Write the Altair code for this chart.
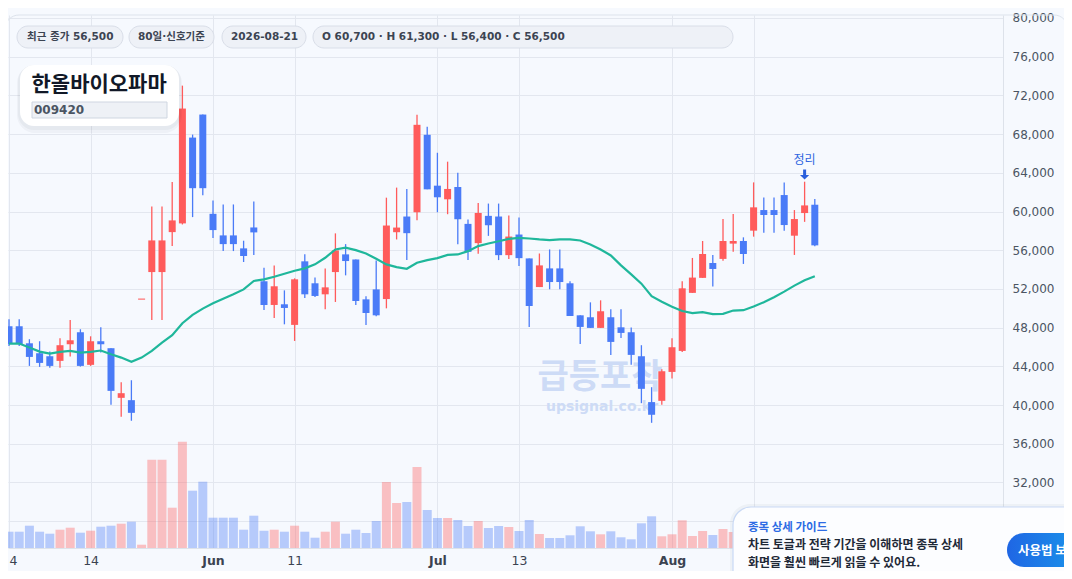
import json
import altair as alt
import pandas as pd

# ---------------- data ----------------
opens = [48140, 48140, 46380, 45350, 45040, 44560, 46280, 47520, 44150, 46590,
         45870, 40740, 40500, 50890, 53740, 53740, 57870, 58770, 67640, 70020,
         59760, 57530, 57530, 56190, 58350, 52780, 50340, 50410, 48280, 54850,
         52580, 51440, 53740, 55570, 55040, 50920, 51950, 50950, 57860, 59480,
         59920, 67930, 62670, 61260, 62530, 58720, 56730, 59550, 59480, 55490,
         57620, 55150, 52190, 54120, 54120, 52580, 49270, 49070, 47970, 49070,
         48030, 47520, 45040, 40300, 40430, 43420, 45590, 51590, 53140, 54680,
         55100, 56680, 56950, 58020, 60150, 60150, 61700, 57500, 59840, 60700]
highs = [48860, 48860, 46800, 46590, 45520, 46900, 48790, 47830, 47100, 48030,
         45870, 42360, 42560, 50890, 60520, 60520, 63050, 73010, 67950, 70020,
         61140, 60730, 60730, 56980, 61040, 54190, 54430, 51850, 53090, 55570,
         53190, 54120, 57740, 56630, 55040, 51230, 54940, 61430, 62470, 62330,
         69990, 68750, 66070, 65150, 64010, 59170, 60890, 60820, 60820, 59580,
         59370, 55150, 55660, 56080, 56080, 52780, 49270, 50610, 50820, 49890,
         49890, 48000, 46180, 41840, 43700, 46900, 52780, 55200, 56950, 55510,
         59220, 59740, 57330, 63010, 61460, 61460, 63010, 60150, 63080, 61300]
lows = [46110, 46100, 44040, 43940, 43840, 43840, 45010, 43970, 44040, 45420,
        40020, 38780, 38370, 50890, 48790, 48790, 56430, 58660, 59420, 61690,
        57250, 55910, 55910, 54780, 55500, 49820, 49000, 48340, 46620, 51060,
        51160, 49890, 50650, 53400, 50340, 48270, 49170, 49990, 57110, 54980,
        59100, 62290, 59920, 59720, 56620, 54980, 55630, 57480, 54980, 55080,
        54360, 48070, 52190, 51960, 51960, 49200, 46310, 47970, 47970, 45180,
        46930, 44150, 40190, 38160, 40020, 42740, 45490, 51590, 53140, 52240,
        54920, 55850, 54580, 57400, 57810, 57810, 58020, 55510, 58930, 56400]
closes = [46310, 46310, 44970, 44350, 44040, 46180, 46690, 44040, 46590, 46280,
          41460, 41220, 39190, 50890, 57010, 57010, 59080, 70640, 62410, 62410,
          58080, 56630, 56630, 55400, 57840, 50340, 52270, 50030, 52990, 51440,
          51270, 52160, 55980, 54880, 50750, 49510, 49270, 58550, 58340, 57760,
          68960, 62290, 61470, 62330, 59200, 55830, 59850, 58580, 55490, 57410,
          55180, 50230, 54430, 52710, 52710, 49200, 48070, 47970, 49690, 46520,
          47450, 45180, 41670, 38990, 43490, 45970, 52060, 53170, 55610, 54060,
          56950, 56950, 55610, 60430, 59640, 59640, 58600, 59220, 60630, 56500]
volumes = [163000, 163000, 223000, 163000, 143000, 183000, 203000, 153000, 173000, 213000,
           223000, 243000, 263000, 33000, 883000, 883000, 403000, 1063000, 573000, 663000,
           303000, 303000, 303000, 183000, 323000, 173000, 183000, 163000, 223000, 163000,
           103000, 163000, 263000, 143000, 183000, 150000, 270000, 660000, 450000, 460000,
           810000, 380000, 300000, 300000, 280000, 220000, 270000, 200000, 220000, 210000,
           170000, 280000, 140000, 100000, 100000, 127000, 217000, 167000, 137000, 167000,
           107000, 87000, 247000, 317000, 117000, 137000, 277000, 120000, 170000, 130000,
           190000, 160000, 140000, 240000, 120000, 120000, 180000, 150000, 220000, 170000]
ma_values = [46350, 46350, 45940, 45520, 45320, 45490, 45590, 45420, 45490, 45630,
             45250, 44900, 44460, 44900, 45590, 46450, 47210, 48450, 49310, 49960,
             50510, 50990, 51440, 51950, 52820, 52990, 53260, 53570, 53880, 54120,
             54540, 55220, 56080, 56260, 56010, 55660, 55110, 54530, 54250, 54080,
             54700, 54980, 55180, 55520, 55560, 55900, 56420, 56690, 56930, 57170,
             57280, 57210, 57110, 57050, 57110, 57110, 57000, 56600, 56070, 55460,
             54430, 53500, 52540, 51250, 50680, 50160, 49720, 49500, 49590, 49390,
             49420, 49760, 49800, 50180, 50620, 51140, 51720, 52340, 52890, 53310]

x_tick_idx = [0, 8, 20, 28, 42, 50, 65, 73]
x_tick_lbl = ["4", "14", "Jun", "11", "Jul", "13", "Aug", ""]  # last tick label hidden under the guide popup
month_idx = [20, 42, 65]
price_ticks = [28000, 32000, 36000, 40000, 44000, 48000, 52000, 56000,
               60000, 64000, 68000, 72000, 76000, 80000]
last_date = "2026-08-21"
stock_name = "한올바이오파마"
stock_code = "009420"
signal_idx = 78
signal_label = "정리"
guide_title = "종목 상세 가이드"
guide_line1 = "차트 토글과 전략 기간을 이해하면 종목 상세"
guide_line2 = "화면을 훨씬 빠르게 읽을 수 있어요."
guide_button = "사용법 보기"
wm_main = "급등포착"
wm_sub = "upsignal.co.kr"

# ---------------- styles ----------------
UP = "#ff5b5b"
DOWN = "#4a7bf7"
MA_C = "#1fb79b"
BG = "#f6f9fe"
GRID = "#e3e7ef"
FONT = "DejaVu Sans, Noto Sans CJK KR"
KFONT = "Noto Sans CJK KR, DejaVu Sans"

rows = []
for i, (o, h, l, c, v, m) in enumerate(zip(opens, highs, lows, closes, volumes, ma_values)):
    lo, hi = min(o, c), max(o, c)
    if hi - lo < 110:
        hi = lo + 110
    rows.append({"i": i, "o": o, "h": h, "l": l, "c": c, "lo": lo, "hi": hi,
                 "v": v, "ma": m, "dir": "up" if c >= o else "down"})
df = pd.DataFrame(rows)
one = pd.DataFrame({"k": [0]})

W, H = 995, 533
xs = alt.Scale(domain=[-0.098, 97.45], nice=False, zero=False, padding=0)
ys = alt.Scale(domain=[25220, 80310], nice=False, zero=False, padding=0)
vs = alt.Scale(domain=[0, 5330000], nice=False, zero=True, padding=0)
col = alt.Color("dir:N", scale=alt.Scale(domain=["up", "down"], range=[UP, DOWN]), legend=None)

lbl_expr = f"{json.dumps(x_tick_lbl)}[indexof({json.dumps(x_tick_idx)}, datum.value)]"
x_axis = alt.Axis(values=x_tick_idx, labelExpr=lbl_expr, grid=True, gridColor=GRID,
                  domain=True, domainColor="#dde2ea", ticks=False, labelPadding=6,
                  labelFontSize=12.5, labelColor="#3b4351", labelFont=FONT, title=None,
                  labelFlush=5, labelOverlap=False,
                  labelFontWeight={"condition": {"test": f"indexof({json.dumps(month_idx)}, datum.value) >= 0",
                                                 "value": "bold"}, "value": "normal"})
y_axis = alt.Axis(orient="right", values=price_ticks, format=",d", grid=True, gridColor=GRID,
                  domain=True, domainColor="#dde2ea", ticks=False, labelPadding=9,
                  labelFontSize=12, labelColor="#4b5563", labelFont=FONT, title=None,
                  labelOverlap=False)
X = alt.X("i:Q", scale=xs, axis=x_axis)

# ---------------- chart layers ----------------
vol = alt.Chart(df).mark_bar(size=9, opacity=0.37).encode(
    x=X, y=alt.Y("v:Q", scale=vs, axis=None), color=col)

wm1 = alt.Chart(one).mark_text(font=KFONT, fontSize=34, fontWeight="bold", color="#cddbf6",
                               align="center", baseline="middle").encode(
    x=alt.value(592), y=alt.value(363), text=alt.value(wm_main))
wm2 = alt.Chart(one).mark_text(font=FONT, fontSize=14, fontWeight="bold", color="#cddbf6",
                               align="center", baseline="middle").encode(
    x=alt.value(594), y=alt.value(392), text=alt.value(wm_sub))

wick = alt.Chart(df).mark_rule(strokeWidth=1.3).encode(
    x=X, y=alt.Y("l:Q", scale=ys, axis=y_axis), y2="h:Q", color=col)
body = alt.Chart(df).mark_bar(size=7).encode(
    x=X, y=alt.Y("lo:Q", scale=ys, axis=y_axis), y2="hi:Q", color=col)
ma = alt.Chart(df).mark_line(color=MA_C, strokeWidth=2.2).encode(
    x=X, y=alt.Y("ma:Q", scale=ys, axis=y_axis))

sig_df = pd.DataFrame({"i": [signal_idx], "t": [signal_label]})
sig_t = alt.Chart(sig_df).mark_text(font=KFONT, fontSize=12, color="#2f66e0",
                                    align="center", baseline="middle").encode(
    x=X, y=alt.value(145), text="t:N")
sig_s = alt.Chart(sig_df).mark_rule(strokeWidth=3, color="#2a5fdc").encode(
    x=X, y=alt.value(154.5), y2=alt.value(160.5))
sig_h = alt.Chart(sig_df).mark_point(shape="M-1,-0.5L1,-0.5L0,0.5Z", size=85, filled=True,
                                     opacity=1, color="#2a5fdc").encode(
    x=X, y=alt.value(162.3))

price = alt.layer(wick, body, ma, sig_t, sig_s, sig_h)


def rect(x0, x1, y0, y1, **kw):
    return alt.Chart(one).mark_rect(**kw).encode(
        x=alt.value(x0), x2=alt.value(x1), y=alt.value(y0), y2=alt.value(y1))


def txt(s, x, y, size, font=FONT, weight="bold", color="#3c4452", align="left"):
    return alt.Chart(one).mark_text(font=font, fontSize=size, fontWeight=weight, color=color,
                                    align=align, baseline="middle").encode(
        x=alt.value(x), y=alt.value(y), text=alt.value(s))


overlays = []
# frame
overlays.append(rect(-3, 1060, 0, 640, fill="transparent", stroke="#dde3ec", strokeWidth=1,
                     cornerRadius=14))
# chips
chips = [
    (f"최근 종가 {closes[-1]:,}", 9, 115, 19),
    (f"{len(closes)}일·신호기준", 121, 206, 130),
    (last_date, 214, 298, 223),
    (f"O {opens[-1]:,} · H {highs[-1]:,} · L {lows[-1]:,} · C {closes[-1]:,}", 305, 725, 314),
]
for s, a, b, tx in chips:
    overlays.append(rect(a, b, 11, 33, fill="#eef1f7", stroke="#d9dee8", strokeWidth=1,
                         cornerRadius=11))
    overlays.append(txt(s, tx, 22, 10.5))

# title card
overlays.append(rect(9, 174, 50, 118, fill="#1e293b", opacity=0.035, cornerRadius=18))
overlays.append(rect(10, 173, 50, 115, fill="#1e293b", opacity=0.04, cornerRadius=16))
overlays.append(rect(12, 171, 50, 111, fill="#ffffff", cornerRadius=14))
overlays.append(txt(stock_name, 23.5, 70, 21, font=KFONT, color="#111827"))
overlays.append(rect(24, 159, 87, 103, fill="#eef1f6", stroke="#cfd6e1", strokeWidth=1))
overlays.append(txt(stock_code, 26, 95, 12, color="#4b5563"))

# guide popup
overlays.append(rect(722, 1110, 489, 640, fill="#1e293b", opacity=0.04, cornerRadius=20))
overlays.append(rect(725, 1100, 492, 640, fill="#fcfdff", stroke="#c9d9f5", strokeWidth=1.2,
                     cornerRadius=18))
overlays.append(txt(guide_title, 740, 512.5, 11.5, font=KFONT, color="#2d6be4"))
overlays.append(txt(guide_line1, 740, 530, 12, font=KFONT, color="#1f2937"))
overlays.append(txt(guide_line2, 740, 548, 12, font=KFONT, color="#1f2937"))
grad = alt.Gradient(gradient="linear", x1=0, x2=1, y1=0, y2=0,
                    stops=[alt.GradientStop(color="#1f66e4", offset=0),
                           alt.GradientStop(color="#19a2ec", offset=1)])
overlays.append(rect(999, 1095, 518, 552, color=grad, cornerRadius=17))
overlays.append(txt(guide_button, 1010, 535.5, 12.5, font=KFONT, color="#ffffff"))

chart = alt.layer(vol, wm1, wm2, price, *overlays).resolve_scale(y="independent").properties(
    width=W, height=H,
    autosize=alt.AutoSizeParams(type="none"),
    padding={"left": 0, "top": 7, "right": 61, "bottom": 23},
    background=BG,
).configure_view(stroke=None, fill=BG)

chart.save("out.html", embed_options={"renderer": "svg", "actions": False})
